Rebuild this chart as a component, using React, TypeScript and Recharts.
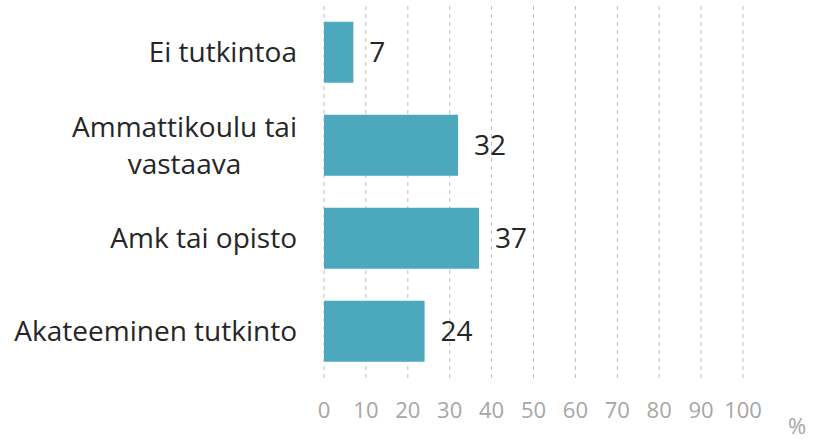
import React from 'react';
import { BarChart, Bar, XAxis, YAxis, CartesianGrid, LabelList } from 'recharts';

const categories = ['Ei tutkintoa', 'Ammattikoulu tai vastaava', 'Amk tai opisto', 'Akateeminen tutkinto'];
const shares = [7, 32, 37, 24];
const xTicks = [0, 10, 20, 30, 40, 50, 60, 70, 80, 90, 100];

const data = categories.map((name, i) => ({ name, value: shares[i] }));

const FONT = '"Open Sans", sans-serif';
const CAT_SIZE = 28;

// wrap long category names on word boundaries
function wrap(label: string, maxChars = 20): string[] {
  const words = label.split(' ');
  const lines: string[] = [];
  let cur = '';
  words.forEach(w => {
    const next = cur ? cur + ' ' + w : w;
    if (next.length > maxChars && cur) {
      lines.push(cur);
      cur = w;
    } else {
      cur = next;
    }
  });
  if (cur) lines.push(cur);
  return lines;
}

let ctx: CanvasRenderingContext2D | null = null;
function measure(s: string): number {
  if (!ctx) ctx = document.createElement('canvas').getContext('2d');
  if (!ctx) return s.length * CAT_SIZE * 0.5;
  ctx.font = `${CAT_SIZE}px "Open Sans"`;
  return ctx.measureText(s).width;
}

const CategoryTick = (props: any) => {
  const { x, y, payload } = props;
  const lines = wrap(payload.value);
  const lh = 37;
  const right = x - 19;
  const start = y - ((lines.length - 1) * lh) / 2;
  // block is right aligned, lines centered inside it
  const blockW = Math.max(...lines.map(measure));
  const cx = right - blockW / 2;
  return (
    <text x={cx} textAnchor="middle" fill="#262626" fontSize={CAT_SIZE} fontFamily={FONT}>
      {lines.map((l, i) => (
        <tspan key={i} x={cx} y={start + i * lh} dy="0.35em">{l}</tspan>
      ))}
    </text>
  );
};

const ValueTick = (props: any) => {
  const { x, y, payload } = props;
  return (
    <text x={x} y={y + 32} textAnchor="middle" fill="#A6A6A6" fontSize={22} fontFamily={FONT}>
      {payload.value}
    </text>
  );
};

export default function App() {
  return (
    <div style={{ position: 'absolute', left: 0, top: 0, background: '#fff' }}>
      <BarChart
        width={813}
        height={439}
        data={data}
        layout="vertical"
        margin={{ top: 6, right: 70, bottom: 0, left: 0 }}
        barCategoryGap="17%"
      >
        <CartesianGrid horizontal={false} stroke="#BFBFBF" strokeDasharray="4 4" />
        <XAxis
          type="number"
          domain={[0, 100]}
          ticks={xTicks}
          interval={0}
          axisLine={false}
          tickLine={false}
          height={61}
          tick={<ValueTick />}
          label={{ value: '%', position: 'right', offset: 45, dy: 18, fill: '#A6A6A6', fontSize: 22, fontFamily: FONT }}
        />
        <YAxis
          type="category"
          dataKey="name"
          width={324}
          axisLine={false}
          tickLine={false}
          tick={<CategoryTick />}
        />
        <Bar dataKey="value" fill="#4BA8BD" isAnimationActive={false}>
          <LabelList dataKey="value" position="right" offset={16} fill="#262626" fontSize={28} fontFamily={FONT} />
        </Bar>
      </BarChart>
    </div>
  );
}
